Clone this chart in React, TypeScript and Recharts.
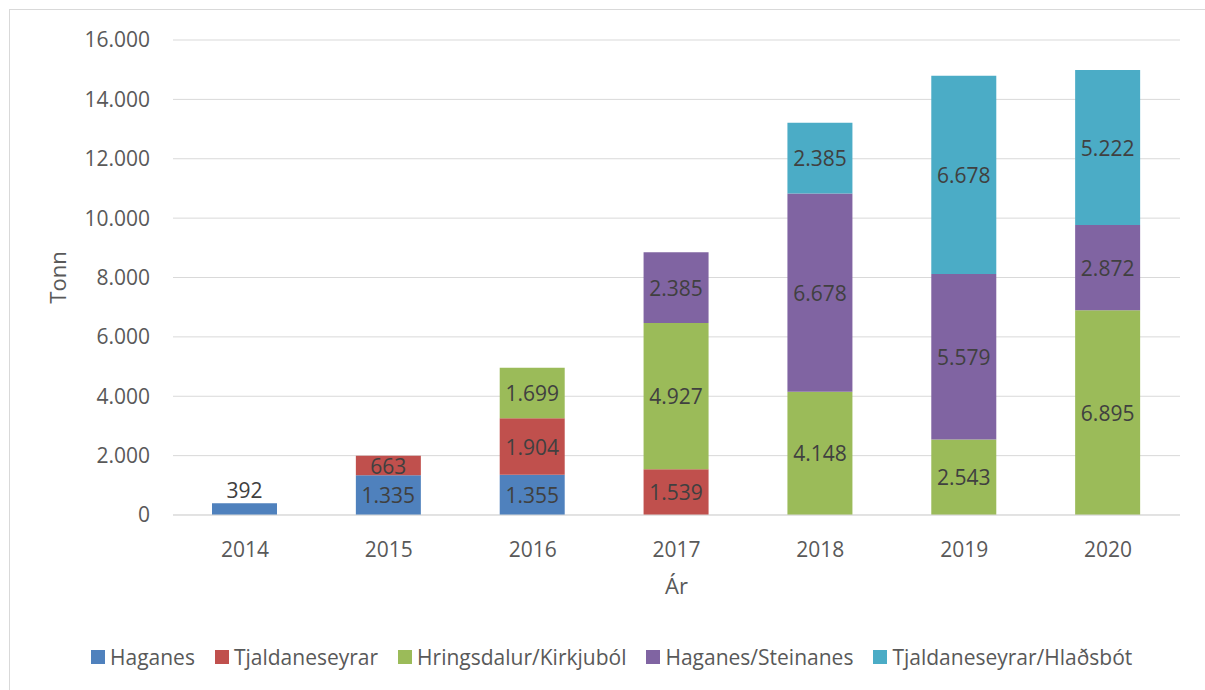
import React from 'react';
import { BarChart, Bar, XAxis, YAxis, CartesianGrid, Legend, LabelList } from 'recharts';

const years = ['2014', '2015', '2016', '2017', '2018', '2019', '2020'];
const haganes = [392, 1335, 1355, null, null, null, null];
const tjaldaneseyrar = [null, 663, 1904, 1539, null, null, null];
const hringsdalur = [null, null, 1699, 4927, 4148, 2543, 6895];
const haganesSteinanes = [null, null, null, 2385, 6678, 5579, 2872];
const tjaldaneseyrarHladsbot = [null, null, null, null, 2385, 6678, 5222];
const yTicks = [0, 2000, 4000, 6000, 8000, 10000, 12000, 14000, 16000];

const seriesNames = ['Haganes', 'Tjaldaneseyrar', 'Hringsdalur/Kirkjuból', 'Haganes/Steinanes', 'Tjaldaneseyrar/Hlaðsbót'];
const seriesKeys = ['s1', 's2', 's3', 's4', 's5'];
const seriesColors = ['#4F81BD', '#C0504D', '#9BBB59', '#8064A2', '#4BACC6'];
const seriesValues = [haganes, tjaldaneseyrar, hringsdalur, haganesSteinanes, tjaldaneseyrarHladsbot];

const data = years.map((year, i) => {
  const row: Record<string, any> = { year };
  seriesKeys.forEach((k, j) => {
    row[k] = seriesValues[j][i];
  });
  return row;
});

const FONT = '"Open Sans", "Noto Sans", sans-serif';

const fmt = (v: number) => String(v).replace(/\B(?=(\d{3})+(?!\d))/g, '.');

const renderLabel = (props: any) => {
  const { x, y, width, height, value } = props;
  if (value == null || value === 0) return null;
  const small = Number(height) < 15;
  const cx = Number(x) + Number(width) / 2;
  const cy = small ? Number(y) - 13 : Number(y) + Number(height) / 2;
  return (
    <text x={cx} y={cy} textAnchor="middle" dominantBaseline="central" fill="#404040" fontSize={21} fontFamily={FONT}>
      {fmt(Number(value))}
    </text>
  );
};

const renderLegend = () => (
  <div style={{ display: 'flex', alignItems: 'center', fontFamily: FONT, fontSize: 21, color: '#595959', whiteSpace: 'nowrap' }}>
    {seriesNames.map((name, i) => (
      <div key={name} style={{ display: 'flex', alignItems: 'center', marginRight: 20 }}>
        <span style={{ display: 'inline-block', width: 14, height: 14, background: seriesColors[i], marginRight: 5 }} />
        <span>{name}</span>
      </div>
    ))}
  </div>
);

export default function App() {
  return (
    <div style={{ position: 'absolute', left: 0, top: 0, width: 1205, height: 690, overflow: 'hidden', background: '#fff' }}>
      <div style={{ position: 'absolute', left: 9, top: 9, width: 1205, height: 700, border: '1px solid #d9d9d9', boxSizing: 'border-box' }} />
      <div style={{ position: 'absolute', left: 0, top: 0 }}>
        <BarChart width={1205} height={690} data={data} margin={{ top: 40, right: 25, bottom: 95, left: 0 }}>
          <CartesianGrid vertical={false} stroke="#d9d9d9" strokeWidth={1} />
          <XAxis
            dataKey="year"
            height={80}
            axisLine={{ stroke: '#d9d9d9' }}
            tickLine={false}
            tickSize={0}
            tickMargin={27}
            tick={{ fill: '#595959', fontSize: 21, fontFamily: FONT }}
            label={{ value: 'Ár', position: 'insideBottom', offset: 1, fill: '#595959', fontSize: 22, fontFamily: FONT }}
          />
          <YAxis
            width={173}
            domain={[0, 16000]}
            ticks={yTicks}
            interval={0}
            axisLine={false}
            tickLine={false}
            tickSize={0}
            tickMargin={23}
            tickFormatter={fmt}
            tick={{ fill: '#595959', fontSize: 21, fontFamily: FONT }}
            label={{ value: 'Tonn', angle: -90, position: 'insideLeft', offset: 58, fill: '#595959', fontSize: 22, fontFamily: FONT, style: { textAnchor: 'middle' } }}
          />
          <Legend
            layout="horizontal"
            verticalAlign="middle"
            align="center"
            content={renderLegend}
            wrapperStyle={{ top: 643, left: 91, width: 1110, height: 28 }}
          />
          {seriesKeys.map((k, i) => (
            <Bar key={k} dataKey={k} name={seriesNames[i]} stackId="a" fill={seriesColors[i]} barSize={65} isAnimationActive={false}>
              <LabelList dataKey={k} content={renderLabel} />
            </Bar>
          ))}
        </BarChart>
      </div>
    </div>
  );
}
